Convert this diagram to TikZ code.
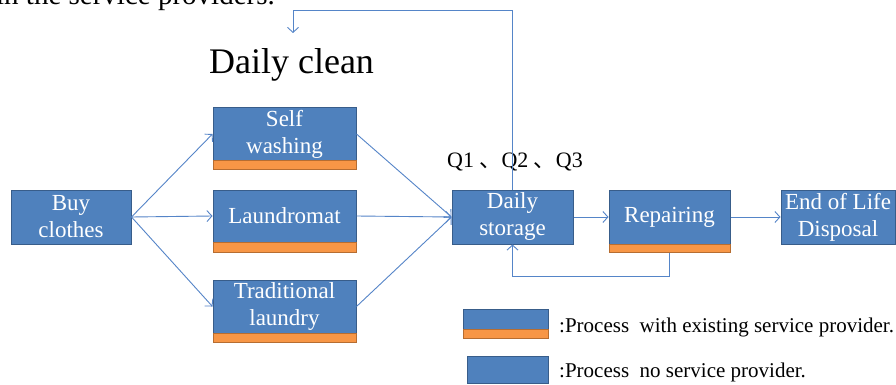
\documentclass[tikz,border=0pt]{standalone}
\usepackage{fontspec}
\setmainfont{Liberation Serif}
\newfontfamily\cjk{Noto Sans CJK SC}
\usetikzlibrary{arrows.meta}
\definecolor{boxblue}{HTML}{4F81BD}
\definecolor{boxedge}{HTML}{385D8A}
\definecolor{stripefill}{HTML}{F79646}
\definecolor{stripeedge}{HTML}{B66D31}
\definecolor{arrcol}{HTML}{5585C8}
\tikzset{
  procbox/.style={draw=boxedge, fill=boxblue, text=white, line width=1pt, inner sep=0pt, align=center,
    font=\fontsize{23}{27}\selectfont},
  stripebox/.style={draw=stripeedge, fill=stripefill, line width=1pt, inner sep=0pt},
  arr/.style={draw=arrcol, line width=0.9pt, -{Straight Barb[length=5pt,width=11pt]}},
  legendtext/.style={anchor=base west, inner sep=0pt, font=\fontsize{21}{25}\selectfont},
}
\begin{document}
\begin{tikzpicture}[x=1pt,y=-1pt]
\clip (0,0) rectangle (896,385);
\fill[white] (0,0) rectangle (896,385);
% cut-off text at top
\node[anchor=base east, inner sep=0pt, font=\fontsize{29}{33}\selectfont] (toptext) at (275,5) {in the service providers.};
\node[anchor=base, inner sep=0pt, font=\fontsize{36}{40}\selectfont] (dc) at (291.5,74) {Daily clean};
% boxes
\node[procbox, minimum width=120pt, minimum height=54pt] (bc) at (71,217) {Buy\\clothes};
\node[procbox, minimum width=143pt, minimum height=52pt] (sw) at (284.5,134) {Self\\washing};
\node[stripebox, minimum width=143pt, minimum height=9pt] (swS) at (284.5,164.5) {};
\node[procbox, minimum width=143pt, minimum height=52pt] (lm) at (284.5,216) {Laundromat};
\node[stripebox, minimum width=143pt, minimum height=10pt] (lmS) at (284.5,247) {};
\node[procbox, minimum width=143pt, minimum height=53pt] (tl) at (284.5,306.5) {Traditional\\laundry};
\node[stripebox, minimum width=143pt, minimum height=9pt] (tlS) at (284.5,337.5) {};
\node[procbox, minimum width=121pt, minimum height=54pt] (ds) at (512.5,217) {Daily\\storage};
\node[procbox, minimum width=121pt, minimum height=54pt] (rp) at (669.5,217) {Repairing};
\node[stripebox, minimum width=121pt, minimum height=8pt] (rpS) at (669.5,248) {};
\node[procbox, minimum width=114pt, minimum height=54pt] (eol) at (838,217) {End of Life\\Disposal};
% Q label
\node[anchor=base west, inner sep=0pt, font=\fontsize{22}{26}\selectfont] (q) at (447,167) {Q1 {\cjk 、}Q2 {\cjk 、}Q3};
% arrows
\draw[arr] (bc.east) -- (sw.west);
\draw[arr] (bc.east) -- (lm.west);
\draw[arr] (bc.east) -- (tl.west);
\draw[arr] (sw.east) -- (ds.west);
\draw[arr] (lm.east) -- (ds.west);
\draw[arr] (tl.east) -- (ds.west);
\draw[arr] (ds.east) -- (rp.west);
\draw[arr] (rp.east) -- (eol.west);
\draw[arr] (rpS.south) -- ++(0,24) -| (ds.south);
\coordinate (topy) at (0,10);
\coordinate (fbend) at (293,33);
\draw[arr] (ds.north) -- (ds.north |- topy) -| (fbend);
% legend
\node[procbox, minimum width=85pt, minimum height=20pt] (lg1) at (505.5,319) {};
\node[stripebox, minimum width=85pt, minimum height=9pt] (lg1S) at (505.5,333.5) {};
\node[procbox, minimum width=81pt, minimum height=27pt] (lg2) at (507.5,369.5) {};
\node[legendtext] (lt1) at (559,332) {:Process\ \ with existing service provider.};
\node[legendtext] (lt2) at (559,377) {:Process\ \ no service provider.};
\end{tikzpicture}
\end{document}
